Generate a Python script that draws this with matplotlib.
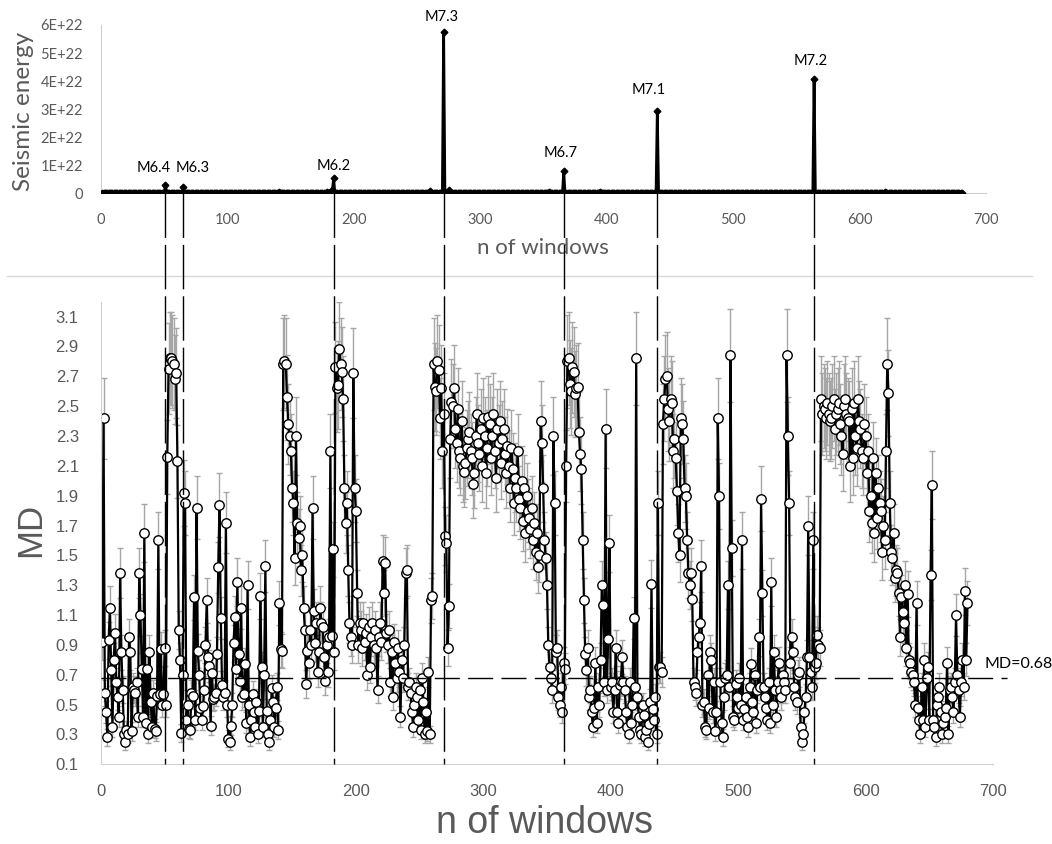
import numpy as np
import matplotlib
matplotlib.use('Agg')
import matplotlib.pyplot as plt
from matplotlib.lines import Line2D
from matplotlib.transforms import blended_transform_factory

# --- data ---
# top panel: seismic energy per window (zero except listed windows)
n_top = 681
quake_windows = [51, 65, 184, 271, 366, 440, 564]
quake_energy = [0.29e22, 0.21e22, 0.53e22, 5.76e22, 0.80e22, 2.93e22, 4.09e22]
quake_labels = ['M6.4', 'M6.3', 'M6.2', 'M7.3', 'M6.7', 'M7.1', 'M7.2']
label_x = [41.5, 72.8, 184.3, 269.7, 363.8, 433.0, 561.2]
label_y = [0.90e22, 0.90e22, 0.97e22, 6.29e22, 1.44e22, 3.68e22, 4.71e22]
minor_windows = [141, 179, 183, 260, 275, 354, 395, 480, 620]
minor_energy = [0.05e22, 0.04e22, 0.12e22, 0.08e22, 0.12e22, 0.06e22, 0.03e22, 0.02e22, 0.03e22]

# bottom panel: MD for windows 1..680
md = [
    0.92, 2.42, 0.58, 0.45, 0.28, 0.93, 1.15, 0.73, 0.35, 0.80,
    0.98, 0.65, 0.55, 0.42, 1.38, 0.85, 0.60, 0.30, 0.25, 0.33,
    0.30, 0.95, 0.85, 0.32, 0.62, 0.60, 0.58, 0.65, 0.42, 1.38,
    1.10, 0.74, 0.42, 1.65, 0.38, 0.74, 0.30, 0.85, 0.52, 0.35,
    0.58, 0.34, 0.32, 0.56, 1.60, 0.57, 0.87, 0.50, 0.57, 0.88,
    0.50, 2.16, 2.75, 2.82, 2.82, 2.80, 2.78, 2.68, 2.72, 2.13,
    1.00, 0.80, 0.31, 0.70, 1.92, 1.85, 0.40, 0.50, 0.34, 0.33,
    0.58, 0.56, 1.22, 0.40, 1.82, 0.86, 0.70, 0.48, 0.40, 0.49,
    0.60, 0.90, 1.20, 0.82, 0.76, 0.36, 0.71, 0.54, 0.55, 0.58,
    0.84, 1.42, 1.84, 1.08, 0.63, 0.55, 0.58, 1.72, 0.50, 0.27,
    0.25, 0.36, 0.50, 0.91, 1.09, 0.74, 1.32, 0.84, 0.66, 1.15,
    0.55, 0.57, 0.77, 0.38, 1.30, 0.50, 0.28, 0.40, 0.57, 0.45,
    0.35, 0.52, 0.30, 0.46, 1.23, 0.75, 0.35, 0.70, 1.43, 0.46,
    0.30, 0.25, 0.40, 0.61, 0.52, 0.35, 0.48, 0.62, 0.33, 1.18,
    0.87, 0.86, 2.78, 2.80, 2.78, 2.56, 2.38, 2.30, 2.20, 1.95,
    1.85, 1.48, 2.30, 1.72, 1.62, 1.70, 1.40, 1.50, 1.15, 1.00,
    0.64, 0.86, 0.78, 1.00, 0.90, 1.82, 1.13, 0.91, 1.05, 0.72,
    0.85, 1.15, 1.05, 1.02, 0.82, 0.66, 0.90, 0.72, 0.95, 2.20,
    0.96, 1.54, 0.85, 2.76, 2.62, 2.64, 2.88, 2.78, 2.73, 2.55,
    1.95, 1.72, 1.85, 1.40, 1.05, 0.95, 0.90, 2.72, 1.95, 1.80,
    1.25, 0.90, 1.05, 1.00, 0.88, 1.05, 0.92, 0.98, 0.70, 1.02,
    0.75, 0.95, 1.05, 0.90, 1.00, 0.88, 0.60, 0.95, 1.05, 0.92,
    1.46, 1.25, 1.45, 0.98, 0.90, 1.00, 0.65, 0.85, 0.55, 0.92,
    0.78, 0.68, 0.88, 0.72, 0.42, 0.80, 0.68, 0.90, 1.38, 1.40,
    0.62, 0.65, 0.58, 0.45, 0.35, 0.50, 0.62, 0.55, 0.40, 0.60,
    0.33, 0.68, 0.52, 0.30, 0.45, 0.32, 0.72, 0.30, 1.20, 1.23,
    2.78, 2.63, 2.60, 2.80, 2.74, 2.42, 2.62, 2.20, 2.45, 1.63,
    1.58, 0.88, 1.16, 2.28, 2.53, 2.50, 2.62, 2.35, 2.25, 2.48,
    2.20, 2.15, 2.40, 2.10, 2.06, 2.12, 2.22, 2.28, 2.33, 2.20,
    2.15, 1.98, 2.05, 2.30, 2.45, 2.25, 2.18, 2.35, 2.10, 2.42,
    2.30, 2.05, 2.22, 2.43, 2.38, 2.15, 2.30, 2.45, 2.20, 2.02,
    2.35, 2.25, 2.40, 2.12, 2.28, 2.35, 2.18, 2.05, 2.23, 2.10,
    1.95, 2.22, 2.08, 1.85, 2.02, 1.95, 2.20, 1.88, 1.82, 2.00,
    1.73, 1.95, 1.65, 1.90, 1.80, 1.75, 1.68, 1.82, 1.60, 1.72,
    1.52, 1.65, 1.42, 1.50, 2.40, 2.25, 1.95, 1.60, 1.48, 1.30,
    0.90, 0.75, 0.68, 0.60, 2.30, 1.85, 0.85, 0.88, 0.55, 0.50,
    0.62, 0.45, 0.78, 0.74, 2.10, 2.80, 2.82, 2.65, 2.60, 2.76,
    2.73, 2.58, 2.62, 2.63, 2.33, 2.18, 2.08, 1.60, 1.20, 0.84,
    0.73, 0.88, 0.55, 0.60, 0.45, 0.35, 0.48, 0.78, 0.38, 0.62,
    0.50, 0.80, 1.30, 1.17, 0.65, 2.35, 0.60, 0.94, 1.58, 0.62,
    0.65, 0.45, 0.60, 0.88, 0.45, 0.38, 0.63, 0.66, 0.82, 0.65,
    0.60, 0.45, 0.35, 0.30, 0.65, 0.38, 0.50, 1.08, 0.62, 2.82,
    0.55, 0.42, 0.33, 0.30, 0.50, 0.43, 0.28, 0.33, 0.25, 0.37,
    0.52, 1.31, 0.47, 0.40, 0.55, 0.30, 1.85, 0.75, 0.75, 0.72,
    2.38, 2.55, 2.68, 2.70, 2.48, 2.40, 2.55, 2.52, 2.20, 2.28,
    2.15, 1.93, 1.65, 1.50, 2.42, 2.38, 2.28, 1.95, 1.90, 1.60,
    1.38, 1.30, 1.38, 1.21, 0.65, 0.62, 0.58, 0.85, 0.95, 1.05,
    1.43, 0.50, 0.52, 0.35, 0.33, 0.70, 0.48, 0.85, 0.80, 0.45,
    0.65, 0.32, 0.45, 2.42, 1.90, 0.65, 0.38, 0.28, 0.55, 0.68,
    0.70, 1.30, 0.62, 2.84, 1.55, 0.42, 0.40, 0.64, 0.55, 0.48,
    0.68, 0.50, 1.60, 0.40, 0.47, 0.55, 0.42, 0.35, 0.62, 0.77,
    0.52, 0.45, 0.70, 0.38, 0.60, 0.95, 0.62, 1.88, 1.25, 0.62,
    0.55, 0.48, 0.40, 0.65, 0.38, 1.32, 0.50, 0.85, 0.60, 0.42,
    0.65, 0.78, 0.60, 0.55, 0.70, 0.65, 0.60, 2.84, 2.30, 1.85,
    0.78, 0.95, 0.85, 0.62, 0.55, 0.52, 0.70, 0.72, 0.35, 0.25,
    0.30, 0.45, 0.55, 0.82, 1.70, 0.82, 0.72, 0.62, 1.60, 0.75,
    0.78, 0.97, 0.90, 0.88, 2.55, 2.45, 2.50, 2.48, 2.42, 2.52,
    2.45, 2.40, 2.42, 2.50, 2.55, 2.35, 2.45, 2.48, 2.52, 2.38,
    2.30, 2.18, 2.50, 2.55, 2.45, 2.42, 2.40, 2.10, 2.48, 2.15,
    2.52, 2.30, 2.22, 2.55, 2.40, 2.35, 2.20, 2.15, 2.38, 2.30,
    2.05, 2.20, 1.80, 1.90, 1.72, 2.15, 1.65, 2.05, 1.75, 1.95,
    1.85, 1.80, 1.52, 1.70, 1.60, 2.20, 2.78, 2.59, 1.85, 1.52,
    1.48, 1.65, 1.35, 1.40, 1.38, 1.25, 0.95, 1.22, 1.12, 1.05,
    1.30, 0.88, 1.24, 0.80, 0.78, 0.72, 0.70, 0.65, 0.50, 1.18,
    0.48, 0.40, 0.30, 0.62, 0.40, 0.80, 0.35, 0.68, 0.75, 0.40,
    1.37, 1.97, 0.40, 0.35, 0.28, 0.50, 0.55, 0.62, 0.45, 0.30,
    0.38, 0.42, 0.48, 0.78, 0.30, 0.60, 0.62, 0.55, 0.45, 0.65,
    1.10, 0.70, 0.60, 0.42, 0.65, 0.80, 0.62, 1.26, 0.80, 1.18,
]
# error bars look like about 10% of MD plus a small constant
md_err_rel = 0.10
md_err_abs = 0.03
md_threshold = 0.68

x_ticks = [0, 100, 200, 300, 400, 500, 600, 700]
energy_ticks = [0, 1e22, 2e22, 3e22, 4e22, 5e22, 6e22]
energy_ticklabels = ['0', '1E+22', '2E+22', '3E+22', '4E+22', '5E+22', '6E+22']
md_ticks = [0.1, 0.3, 0.5, 0.7, 0.9, 1.1, 1.3, 1.5, 1.7, 1.9, 2.1, 2.3, 2.5, 2.7, 2.9, 3.1]

grey = '#595959'
spine_c = '#d0d0d0'

win_top = np.arange(1, n_top + 1)
energy = np.zeros(n_top)
for w, e in zip(minor_windows, minor_energy):
    energy[w - 1] = e
for w, e in zip(quake_windows, quake_energy):
    energy[w - 1] = e

md = np.array(md)
win_md = np.arange(1, len(md) + 1)
md_err = md * md_err_rel + md_err_abs

fig = plt.figure(figsize=(10.52, 8.44), dpi=100)
ax1 = fig.add_axes([0.0960, 0.7710, 0.8413, 0.1994])
ax2 = fig.add_axes([0.0960, 0.0944, 0.8479, 0.5481])

# top panel
ax1.plot(win_top, energy, color='black', lw=2, marker='D', ms=3.4, zorder=3)
ax1.set_xlim(0, 700)
ax1.set_ylim(0, 6e22)
ax1.set_xticks(x_ticks)
ax1.set_yticks(energy_ticks)
ax1.set_yticklabels(energy_ticklabels)
for s in ['top', 'right']:
    ax1.spines[s].set_visible(False)
for s in ['left', 'bottom']:
    ax1.spines[s].set_color(spine_c)
ax1.tick_params(length=0, colors=grey, labelsize=10.5)
ax1.tick_params(axis='y', pad=13)
ax1.tick_params(axis='x', pad=14)
for lab in ax1.get_xticklabels() + ax1.get_yticklabels():
    lab.set_family('Lato')
for t, x, y in zip(quake_labels, label_x, label_y):
    ax1.text(x, y, t, ha='center', va='center', fontsize=10.5, family='Lato',
             color='black', clip_on=False)
fig.text(0.022, 0.868, 'Seismic energy', rotation=90, ha='center', va='center',
         fontsize=17.5, color=grey, family='Lato')
fig.text(0.5157, 1 - 248 / 844, 'n of windows', ha='center', va='center',
         fontsize=16, color=grey, family='Lato')

# bottom panel
ax2.errorbar(win_md, md, yerr=md_err, fmt='none', ecolor='#a6a6a6', elinewidth=1,
             capsize=2.5, capthick=1, zorder=1)
ax2.plot(win_md, md, color='black', lw=1.6, marker='o', ms=6.8, mfc='white',
         mec='black', mew=1, zorder=2)
ax2.set_xlim(0, 700)
ax2.set_ylim(0.1, 3.2)
ax2.set_xticks(x_ticks)
ax2.set_yticks(md_ticks)
ax2.set_yticklabels([f'{v:.1f}' for v in md_ticks])
for s in ['top', 'right']:
    ax2.spines[s].set_visible(False)
for s in ['left', 'bottom']:
    ax2.spines[s].set_color(spine_c)
ax2.tick_params(length=0, colors=grey, labelsize=12)
ax2.tick_params(axis='y', pad=16)
ax2.tick_params(axis='x', pad=14)
for lab in ax2.get_xticklabels() + ax2.get_yticklabels():
    lab.set_family('Liberation Sans')

ax2.plot([0, 711], [md_threshold, md_threshold], color='black', lw=1,
         dashes=(18, 6), clip_on=False, zorder=4)
ax2.text(693.7, 0.772, 'MD=' + str(md_threshold), ha='left', va='center',
         fontsize=11.5, family='Lato', color='black', clip_on=False)

fig.text(0.0295, 0.372, 'MD', rotation=90, ha='center', va='center',
         fontsize=25, color=grey, family='Liberation Sans')
fig.text(0.5175, 0.004, 'n of windows', ha='center', va='bottom',
         fontsize=27, color=grey, family='Liberation Sans')

# dashed event lines spanning both panels
trans = blended_transform_factory(ax1.transData, fig.transFigure)
for w in quake_windows:
    fig.add_artist(Line2D([w, w], [0.7710, 0.0944], transform=trans, color='black',
                          lw=1, dashes=(32, 5), zorder=5))

# separator between the panels
fig.add_artist(Line2D([0.0067, 0.981], [1 - 276 / 844, 1 - 276 / 844],
                      transform=fig.transFigure, color='#d9d9d9', lw=1))

fig.savefig('out.png', dpi=100)
